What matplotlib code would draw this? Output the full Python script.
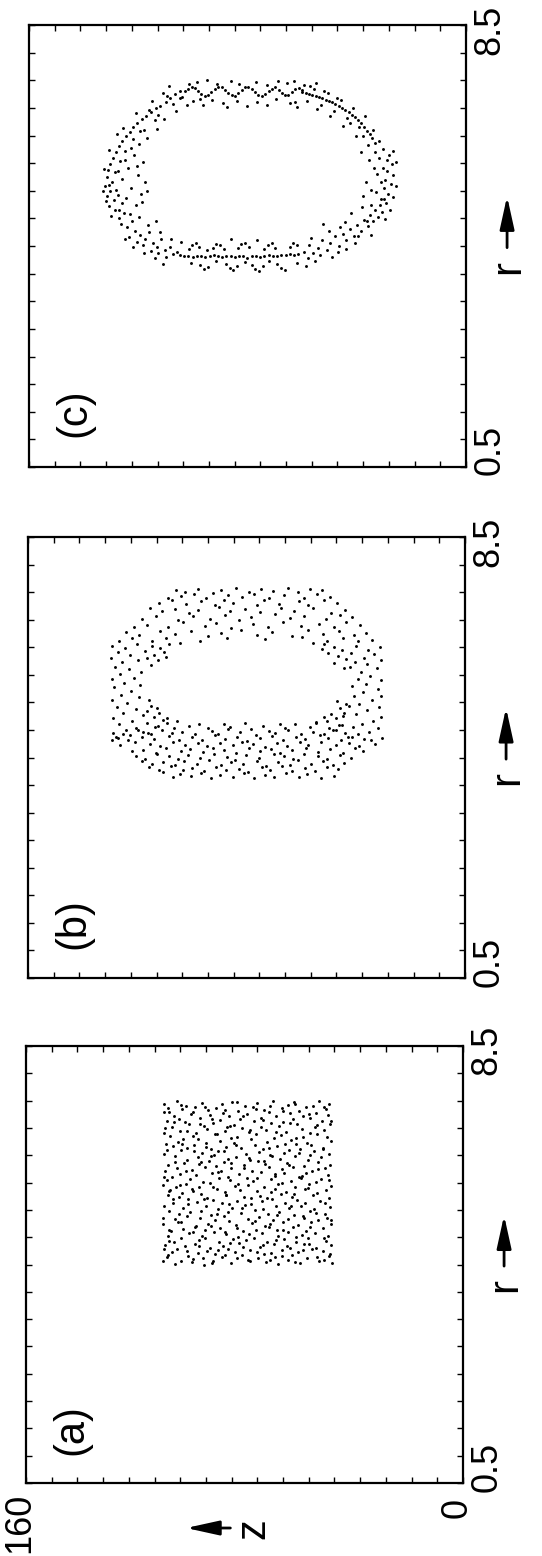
import numpy as np
import matplotlib
matplotlib.use("Agg")
import matplotlib.pyplot as plt

plt.rcParams['font.family'] = ['Liberation Sans', 'DejaVu Sans']

# axis ranges (r runs bottom->top, z runs right->left in the rotated figure)
r_lo, r_hi = 0.5, 8.5
z_lo, z_hi = 0.0, 160.0
r_ticks = np.arange(0.5, 8.51, 0.5)
z_ticks = np.linspace(0, 160, 18)
panel_names = ['(a)', '(b)', '(c)']

# panel (a): filled block of particles, (z, r)
pts_a = [
    (48.9,7.44),(52.7,7.49),(55.1,7.41),(61.8,7.47),(64.0,7.42),(69.5,7.50),(75.3,7.45),(79.9,7.41),(84.6,7.48),(88.2,7.43),(95.7,7.46),(101.4,7.40),(104.8,7.49),(109.3,7.43),
    (50.2,7.35),(57.4,7.38),(59.9,7.31),(66.1,7.36),(72.8,7.33),(77.0,7.39),(82.3,7.31),(90.6,7.37),(93.4,7.32),(98.1,7.38),(103.0,7.34),(107.6,7.30),
    (49.3,7.24),(53.8,7.28),(58.6,7.21),(63.3,7.27),(68.4,7.22),(71.0,7.29),(79.2,7.25),(85.7,7.21),(87.9,7.28),(92.5,7.23),(99.6,7.26),(105.9,7.22),(109.6,7.29),
    (51.6,7.13),(55.9,7.19),(62.4,7.16),(65.8,7.11),(74.1,7.18),(76.7,7.12),(81.5,7.17),(89.0,7.14),(96.3,7.19),(101.8,7.11),(104.1,7.16),(108.2,7.13),
    (48.6,7.07),(54.3,7.02),(60.7,7.08),(67.5,7.04),(70.2,7.09),(73.9,7.01),(83.8,7.06),(86.4,7.02),(91.7,7.09),(94.9,7.03),(100.5,7.07),(106.7,7.01),
    (50.8,6.96),(56.2,6.91),(59.0,6.98),(64.7,6.93),(72.1,6.97),(78.4,6.92),(80.9,6.99),(87.3,6.94),(93.8,6.98),(97.6,6.91),(103.7,6.95),(109.0,6.99),
    (49.9,6.83),(53.4,6.88),(61.1,6.81),(66.6,6.87),(69.3,6.82),(75.8,6.89),(82.7,6.84),(85.1,6.81),(90.8,6.88),(99.0,6.85),(102.6,6.80),(107.1,6.86),
    (48.3,6.76),(57.1,6.72),(62.9,6.78),(65.2,6.71),(71.6,6.75),(77.8,6.79),(84.0,6.73),(88.8,6.77),(94.2,6.72),(96.9,6.79),(104.5,6.74),(108.9,6.71),
    (51.2,6.64),(55.6,6.69),(59.6,6.62),(68.0,6.67),(73.4,6.61),(76.3,6.68),(81.1,6.63),(86.9,6.66),(92.1,6.61),(98.5,6.69),(101.2,6.64),(106.2,6.67),
    (49.0,6.52),(54.7,6.57),(60.2,6.54),(63.8,6.59),(70.7,6.51),(74.6,6.56),(79.5,6.53),(89.6,6.58),(91.3,6.51),(95.4,6.55),(103.3,6.59),(109.4,6.53),
    (52.0,6.46),(56.8,6.41),(61.6,6.48),(67.0,6.43),(69.8,6.49),(78.1,6.42),(83.2,6.47),(85.9,6.44),(93.1,6.40),(97.2,6.47),(100.9,6.42),(105.4,6.48),
    (48.7,6.33),(53.0,6.38),(58.3,6.31),(64.4,6.36),(72.4,6.34),(75.0,6.39),(80.3,6.32),(87.6,6.37),(90.3,6.31),(96.0,6.38),(102.1,6.35),(107.9,6.32),
    (50.5,6.27),(55.3,6.22),(62.1,6.29),(66.3,6.24),(71.2,6.28),(77.3,6.21),(84.9,6.26),(88.5,6.22),(94.6,6.29),(99.3,6.23),(104.7,6.27),(109.2,6.21),
    (49.4,6.14),(57.6,6.18),(60.0,6.11),(65.5,6.17),(68.8,6.12),(74.0,6.19),(82.0,6.15),(86.1,6.11),(91.9,6.18),(97.9,6.13),(103.5,6.16),(106.4,6.11),
    (51.9,6.06),(54.0,6.01),(59.3,6.08),(63.0,6.03),(70.4,6.07),(76.9,6.02),(79.0,6.09),(85.3,6.04),(89.3,6.08),(95.1,6.01),(100.0,6.06),(108.5,6.05),
    (48.4,5.94),(56.5,5.98),(61.4,5.92),(67.8,5.97),(72.9,5.91),(78.7,5.96),(83.5,5.93),(92.8,5.99),(96.6,5.92),(101.6,5.97),(105.1,5.91),(109.7,5.95),
    (50.0,5.86),(53.6,5.81),(58.0,5.88),(64.9,5.83),(69.0,5.89),(75.5,5.84),(81.8,5.87),(87.0,5.82),(90.0,5.88),(98.8,5.85),(102.9,5.81),(107.3,5.87),
    (49.1,5.72),(55.0,5.77),(62.6,5.73),(66.8,5.79),(71.9,5.71),(74.3,5.76),(80.1,5.73),(86.7,5.78),(93.6,5.72),(95.9,5.79),(104.0,5.74),(108.0,5.78),
    (52.5,5.66),(57.9,5.62),(60.9,5.68),(65.0,5.63),(70.0,5.69),(77.6,5.61),(82.9,5.66),(88.1,5.62),(91.5,5.68),(97.4,5.64),(100.8,5.69),(106.0,5.62),
    (48.8,5.55),(54.5,5.51),(59.4,5.58),(63.6,5.53),(68.6,5.57),(73.1,5.52),(79.7,5.59),(84.4,5.54),(89.8,5.51),(94.0,5.57),(102.4,5.53),(109.5,5.58),
    (50.7,5.43),(56.0,5.48),(61.9,5.41),(67.3,5.46),(71.4,5.42),(76.1,5.49),(81.3,5.44),(86.0,5.47),(92.3,5.41),(99.9,5.46),(103.8,5.42),(107.7,5.48),
    (49.7,5.36),(53.2,5.32),(58.7,5.39),(64.1,5.34),(69.6,5.31),(74.8,5.37),(78.9,5.33),(87.4,5.38),(90.9,5.32),(96.2,5.36),(101.0,5.39),(105.6,5.33),
    (48.2,5.24),(55.8,5.28),(60.5,5.22),(66.0,5.27),(72.6,5.21),(77.1,5.26),(83.1,5.23),(85.6,5.29),(93.3,5.25),(97.8,5.21),(104.2,5.28),(109.8,5.24),
    (51.4,5.16),(57.3,5.11),(62.2,5.18),(68.2,5.13),(70.9,5.19),(75.9,5.14),(80.5,5.12),(88.9,5.17),(94.4,5.13),(98.2,5.19),(102.7,5.15),(106.9,5.11),
    (49.5,5.03),(54.1,5.08),(59.1,5.04),(63.9,5.09),(67.7,5.02),(73.7,5.07),(82.4,5.01),(86.6,5.06),(91.1,5.09),(95.6,5.03),(100.3,5.07),(108.1,5.02),
    (50.3,4.93),(56.6,4.98),(61.0,4.91),(65.4,4.96),(71.8,4.92),(76.5,4.99),(79.3,4.94),(84.2,4.97),(89.4,4.91),(96.8,4.95),(103.1,4.99),(107.5,4.93),
    (48.5,4.86),(53.7,4.81),(58.2,4.88),(64.6,4.83),(69.1,4.87),(74.5,4.82),(81.9,4.89),(87.8,4.84),(92.6,4.81),(98.3,4.88),(101.9,4.83),(109.1,4.85),
    (51.1,4.74),(55.4,4.79),(60.3,4.72),(66.4,4.77),(70.3,4.71),(77.9,4.76),(83.6,4.73),(86.2,4.78),(93.9,4.75),(97.0,4.71),(104.6,4.78),(106.5,4.72),
    (49.2,4.66),(57.0,4.61),(62.7,4.68),(68.9,4.63),(73.0,4.69),(75.2,4.62),(80.8,4.67),(88.4,4.64),(90.7,4.69),(95.3,4.61),(100.6,4.66),(108.4,4.63),
    (48.1,4.53),(52.9,4.57),(59.7,4.52),(64.2,4.58),(67.9,4.51),(72.2,4.55),(78.6,4.59),(85.0,4.52),(91.6,4.56),(94.7,4.50),(99.4,4.54),(105.3,4.51),(109.9,4.57),
]
pts_a_more = [
    (48.5,7.12),(48.9,6.05),(48.3,5.31),(48.7,4.70),
    (50.9,7.38),(51.3,6.61),(50.6,5.62),(51.0,4.98),(50.8,4.58),
    (53.5,7.05),(53.1,6.24),(53.9,5.45),(53.4,4.64),
    (56.3,7.26),(56.0,6.50),(56.7,5.90),(56.1,5.19),(56.5,4.88),
    (58.4,6.83),(58.8,6.12),(58.1,5.36),(58.6,4.77),
    (61.5,7.44),(61.2,6.70),(61.8,5.79),(61.3,5.01),(61.6,4.55),
    (63.4,7.09),(63.7,6.32),(63.1,5.57),(63.5,4.80),
    (65.9,7.31),(65.6,6.55),(66.2,6.00),(65.8,5.13),(66.1,4.66),
    (68.3,6.92),(68.7,6.16),(68.0,5.41),(68.5,4.94),
    (70.6,7.41),(70.9,6.63),(70.3,5.83),(70.8,5.24),(70.5,4.59),
    (73.3,7.14),(73.0,6.40),(73.6,5.66),(73.2,4.85),
    (75.7,7.35),(75.4,6.08),(76.0,5.29),(75.6,4.73),
    (78.0,6.97),(78.3,6.45),(77.7,5.72),(78.2,5.06),(77.9,4.56),
    (80.6,7.22),(80.2,6.27),(80.9,5.53),(80.4,4.82),
    (82.8,7.48),(83.1,6.68),(82.5,5.98),(82.9,5.16),(82.6,4.62),
    (85.4,7.03),(85.0,6.36),(85.7,5.61),(85.2,4.90),
    (87.2,7.33),(87.5,6.57),(86.9,5.77),(87.3,5.10),(87.1,4.68),
    (89.9,6.88),(89.6,6.19),(90.2,5.43),(89.8,4.76),
    (92.0,7.17),(92.3,6.49),(91.7,5.92),(92.1,5.20),(91.9,4.53),
    (94.5,7.39),(94.2,6.66),(94.8,5.69),(94.4,4.99),
    (96.4,7.08),(96.7,6.34),(96.1,5.48),(96.5,4.83),
    (98.9,7.29),(98.6,6.58),(99.2,5.88),(98.8,5.09),(99.0,4.60),
    (101.1,6.94),(101.4,6.22),(100.8,5.60),(101.2,4.74),
    (103.3,7.42),(103.0,6.71),(103.6,5.95),(103.2,5.27),(103.4,4.57),
    (105.8,7.11),(105.5,6.38),(106.1,5.70),(105.7,4.91),
    (107.9,7.36),(108.2,6.60),(107.6,5.84),(107.8,5.14),(108.0,4.67),
    (109.5,6.90),(109.3,6.10),(109.7,5.35),(109.4,4.79),
]

# panel (b): hollow ring, upper part
pts_b_top = [
    (52.4,7.53),(56.9,7.56),(61.0,7.50),(64.8,7.57),(70.3,7.52),(74.6,7.55),(79.1,7.51),(83.7,7.57),(89.5,7.53),(92.2,7.49),(97.8,7.56),(102.5,7.51),(105.9,7.54),
    (49.3,7.42),(54.1,7.46),(58.8,7.40),(66.2,7.44),(71.9,7.39),(77.4,7.47),(81.6,7.42),(86.8,7.45),(94.7,7.40),(99.1,7.46),(104.0,7.43),(108.6,7.39),
    (46.8,7.30),(51.7,7.35),(57.5,7.27),(60.9,7.33),(68.1,7.29),(73.5,7.36),(76.0,7.26),(84.9,7.31),(88.3,7.36),(91.6,7.27),(96.5,7.33),(102.0,7.28),(107.2,7.35),(112.1,7.30),
    (44.0,7.18),(48.9,7.13),(55.6,7.22),(62.7,7.16),(67.3,7.21),(74.9,7.14),(80.4,7.19),(86.2,7.15),(90.0,7.23),(97.9,7.17),(101.1,7.12),(106.3,7.20),(110.8,7.15),(115.4,7.21),
    (41.2,7.05),(45.6,7.09),(50.8,7.01),(58.9,7.07),(64.1,7.03),(69.6,7.10),(78.3,7.04),(82.8,6.99),(87.7,7.08),(93.4,7.02),(99.6,7.07),(104.9,7.00),(113.0,7.06),(118.2,7.02),
    (38.6,6.90),(43.5,6.95),(47.9,6.86),(53.3,6.93),(60.2,6.88),(66.7,6.96),(72.3,6.87),(77.8,6.92),(85.5,6.85),(91.0,6.94),(95.2,6.89),(103.1,6.95),(108.7,6.86),(116.6,6.91),(121.3,6.87),
    (36.1,6.76),(40.7,6.72),(46.3,6.80),(52.0,6.74),(57.4,6.81),(63.5,6.71),(70.8,6.78),(76.1,6.73),(81.9,6.82),(89.2,6.75),(94.0,6.71),(100.3,6.79),(106.1,6.74),(111.5,6.80),(119.4,6.73),(124.2,6.78),
    (34.0,6.64),(39.3,6.61),(44.8,6.67),(50.5,6.62),(59.6,6.68),(73.2,6.65),(87.3,6.66),(97.1,6.61),(109.3,6.67),(114.7,6.62),(121.9,6.66),(126.8,6.61),
]
# panel (b): rounded corners of the hole
pts_b_corner = [
    (108.5,6.55),(111.8,6.48),(114.6,6.52),(110.2,6.41),(113.9,6.36),(116.4,6.30),(112.3,6.27),(115.0,6.18),(109.6,6.33),(104.2,6.58),
    (51.5,6.55),(48.0,6.50),(44.9,6.45),(50.0,6.40),(46.6,6.34),(43.5,6.28),(47.8,6.22),(52.3,6.47),(55.8,6.58),(44.4,6.12),
    (110.5,5.18),(113.8,5.24),(116.5,5.35),(111.9,5.30),(114.9,5.44),(109.0,5.22),(112.6,5.40),(115.8,5.55),(105.3,5.16),
    (50.4,5.17),(47.3,5.22),(44.2,5.31),(49.0,5.29),(45.8,5.40),(51.8,5.24),(43.6,5.47),(46.9,5.52),(54.7,5.15),
]
# panel (b): left and right sides
pts_b_side = [
    (129.2,6.52),(124.5,6.48),(120.1,6.55),(127.0,6.41),(117.3,6.44),(122.8,6.36),(129.5,6.30),(125.6,6.24),(119.8,6.27),(128.1,6.15),
    (123.0,6.10),(118.6,6.05),(126.4,6.01),(129.4,5.93),(121.2,5.95),(124.9,5.86),(118.9,5.81),(128.6,5.77),(122.3,5.70),(126.0,5.63),
    (119.5,5.60),(129.3,5.55),(123.8,5.49),(127.4,5.41),(120.6,5.38),(125.1,5.31),(118.0,5.27),(129.0,5.22),(122.0,5.16),(126.7,5.10),
    (116.3,5.12),(120.4,5.04),(124.3,5.00),(128.9,4.95),(113.5,5.06),(117.9,4.97),(122.7,4.91),(127.2,4.86),(129.4,4.81),(115.1,4.93),
    (31.0,6.50),(35.4,6.45),(39.8,6.53),(33.2,6.38),(41.6,6.40),(37.0,6.31),(30.7,6.26),(35.9,6.20),(40.3,6.23),(32.4,6.12),
    (38.1,6.06),(42.0,6.14),(34.6,5.98),(30.9,5.91),(39.2,5.93),(36.3,5.84),(41.4,5.79),(32.0,5.75),(37.5,5.68),(30.6,5.61),
    (40.6,5.62),(34.1,5.55),(38.8,5.47),(31.5,5.42),(42.3,5.44),(35.7,5.36),(39.9,5.29),(30.8,5.24),(33.6,5.17),(44.6,5.26),
    (37.8,5.11),(41.0,5.06),(31.9,5.03),(35.0,4.96),(45.1,5.09),(39.0,4.92),(30.5,4.85),(42.7,4.88),(34.4,4.82),(47.2,4.99),
]
# panel (b): dense lower part
pts_b_low = [
    (46.1,5.09),(49.8,5.04),(54.6,5.12),(56.9,5.06),(62.3,5.10),(66.0,5.03),(67.9,5.11),(73.8,5.07),(78.2,5.02),(80.6,5.12),(85.9,5.05),(88.4,5.10),(94.1,5.04),(97.5,5.11),(101.0,5.07),(106.6,5.03),(109.2,5.12),(112.4,5.08),
    (43.9,4.95),(48.2,4.99),(51.5,4.92),(55.7,4.97),(60.1,4.93),(64.8,5.00),(69.4,4.94),(71.7,4.98),(76.5,4.91),(82.2,4.96),(86.7,5.01),(90.5,4.93),(92.8,4.98),(98.9,4.92),(103.6,4.97),(107.3,4.94),(110.8,5.00),(116.0,4.95),(119.7,4.99),(125.3,4.93),
    (36.9,4.84),(41.2,4.88),(45.5,4.81),(50.0,4.86),(53.2,4.90),(58.4,4.83),(61.9,4.87),(66.7,4.82),(70.6,4.89),(75.0,4.85),(79.8,4.80),(83.4,4.88),(87.9,4.84),(91.6,4.90),(96.3,4.82),(100.1,4.87),(104.7,4.81),(108.5,4.89),(113.9,4.84),(118.2,4.88),(123.5,4.82),(127.6,4.87),
    (33.0,4.74),(38.8,4.70),(42.4,4.77),(47.1,4.72),(52.6,4.79),(57.3,4.73),(60.5,4.78),(65.1,4.71),(69.0,4.76),(73.3,4.69),(77.7,4.75),(81.5,4.79),(85.0,4.72),(89.8,4.77),(94.6,4.70),(97.9,4.76),(102.4,4.73),(106.9,4.78),(111.6,4.71),(115.2,4.75),(120.9,4.79),(126.2,4.72),
    (37.4,4.62),(40.1,4.67),(44.7,4.59),(49.4,4.65),(54.0,4.60),(58.1,4.68),(63.2,4.63),(67.6,4.58),(71.0,4.66),(74.9,4.61),(79.1,4.67),(83.8,4.59),(88.1,4.64),(92.3,4.68),(95.8,4.60),(100.8,4.65),(104.1,4.62),(109.6,4.67),(113.3,4.59),(117.8,4.64),(122.1,4.61),
    (41.8,4.50),(45.9,4.55),(50.7,4.48),(53.9,4.53),(59.0,4.57),(62.8,4.47),(66.3,4.52),(70.1,4.56),(75.6,4.49),(80.0,4.54),(84.3,4.46),(87.2,4.51),(91.9,4.57),(96.9,4.49),(101.3,4.54),(105.0,4.47),(108.2,4.52),(112.7,4.56),(117.0,4.48),(120.6,4.53),
    (44.3,4.40),(48.5,4.36),(52.1,4.43),(56.4,4.38),(61.1,4.45),(64.0,4.37),(68.5,4.41),(72.9,4.35),(76.2,4.44),(81.1,4.39),(85.6,4.42),(89.3,4.36),(93.7,4.45),(98.2,4.38),(102.9,4.43),(106.3,4.36),(110.4,4.41),(114.5,4.38),(118.4,4.44),
    (46.4,4.29),(50.4,4.33),(55.0,4.26),(58.6,4.31),(63.4,4.25),(67.0,4.34),(71.4,4.28),(74.4,4.32),(79.4,4.24),(82.9,4.30),(87.6,4.27),(91.2,4.33),(95.4,4.25),(99.8,4.31),(103.2,4.28),(107.8,4.34),(112.0,4.27),(115.6,4.32),
    (48.0,4.17),(52.8,4.13),(57.8,4.20),(60.8,4.15),(65.6,4.22),(69.9,4.14),(73.1,4.18),(77.2,4.12),(80.9,4.21),(84.8,4.15),(89.7,4.19),(93.0,4.13),(96.7,4.22),(100.4,4.16),(104.4,4.20),(107.0,4.14),(110.6,4.23),
]

# panel (c): thin ring, top part with the wavy chain
pts_c_top = [
    (103.0,7.30),(101.8,7.35),(100.5,7.38),(99.3,7.36),(98.1,7.31),(96.9,7.25),(95.6,7.22),(94.4,7.24),(93.2,7.29),(92.0,7.34),(90.7,7.38),(89.5,7.37),
    (88.3,7.32),(87.0,7.27),(85.8,7.23),(84.6,7.22),(83.4,7.27),(82.1,7.32),(80.9,7.37),(79.7,7.38),(78.4,7.34),(77.2,7.29),(76.0,7.24),(74.8,7.22),
    (73.5,7.25),(72.3,7.30),(71.1,7.35),(69.9,7.37),(68.6,7.33),(67.4,7.27),(66.2,7.23),(65.0,7.24),(63.7,7.29),(62.5,7.34),(61.3,7.36),(60.1,7.32),
    (98.4,7.46),(94.9,7.50),(91.3,7.43),(86.1,7.48),(83.0,7.44),(76.8,7.47),(73.0,7.42),(68.9,7.49),(65.7,7.45),(59.2,7.41),(101.5,7.44),
    (99.8,7.12),(96.2,7.05),(92.9,7.15),(89.0,7.08),(84.0,7.13),(80.2,7.03),(76.4,7.11),(72.7,7.06),(69.4,7.16),(64.3,7.09),(61.7,7.02),(104.6,7.18),(97.3,7.16),(87.6,7.01),
]
# panel (c): left half of the ring
pts_c_left = [
    (106.5,7.25),(108.2,7.18),(104.8,7.31),(110.0,7.10),(111.9,7.04),(109.3,7.21),(113.5,7.00),(115.2,6.93),(112.6,6.88),(117.0,6.85),(118.7,6.79),(116.1,6.97),
    (120.3,6.72),(121.8,6.66),(119.4,6.58),(123.2,6.57),(124.6,6.49),(122.0,6.43),(125.9,6.40),(127.1,6.31),(124.9,6.22),(128.3,6.21),(129.4,6.10),(126.8,6.04),
    (130.2,5.98),(131.0,5.88),(128.4,5.84),(114.0,6.78),(107.4,7.07),(118.0,6.60),(111.1,7.27),(103.8,7.20),(120.8,6.90),(125.5,6.64),(130.7,6.24),(127.7,6.52),
    (131.6,5.74),(129.5,5.66),(132.0,5.58),(130.4,5.49),(128.2,5.52),(131.3,5.40),(129.0,5.33),(127.3,5.42),(130.6,5.22),(128.6,5.15),(126.1,5.27),(129.9,5.05),
    (127.0,5.00),(125.2,5.09),(130.8,5.60),(131.9,5.31),
    (126.3,4.90),(124.0,4.84),(122.2,4.95),(121.1,4.77),(119.4,4.70),(123.5,4.66),(117.6,4.63),(116.0,4.75),(114.7,4.56),(118.3,4.51),
    (113.1,4.48),(111.6,4.62),(110.2,4.42),(112.9,4.37),(108.5,4.49),(107.3,4.35),(115.5,4.41),(109.8,4.30),(120.5,4.58),(105.9,4.40),
    (121.5,6.15),(118.3,6.02),(123.9,5.92),(120.0,5.78),(125.8,5.71),(117.4,5.65),(122.6,5.55),(119.1,5.44),(124.4,5.36),(121.0,5.24),
    (126.9,5.15),(118.6,5.30),(123.0,5.08),(132.6,5.90),(133.0,5.50),(127.5,5.85),(120.3,5.95),(116.8,5.50),(125.0,6.05),(122.8,6.28),
    (113.2,6.62),(110.5,6.80),(116.9,6.45),(106.0,6.95),(119.6,6.35),(102.2,7.05),(108.9,7.40),(114.8,7.12),
    (124.8,4.62),(121.8,4.48),(118.0,4.38),(114.0,4.28),(110.8,4.18),(116.6,4.88),(112.1,4.75),(107.9,4.62),(119.9,5.02),(113.6,4.95),
]
# panel (c): bottom chain and wave
pts_c_bottom = [
    (104.8,4.33),(103.2,4.31),(101.7,4.32),(100.1,4.30),(98.6,4.31),(97.0,4.32),(95.5,4.30),(93.9,4.31),(92.4,4.33),(90.8,4.31),(89.3,4.30),(87.7,4.32),
    (86.2,4.31),(84.6,4.30),(83.1,4.32),(81.5,4.31),(80.0,4.29),(78.4,4.31),(76.9,4.32),(75.3,4.30),(73.8,4.31),(72.2,4.33),(70.7,4.31),(69.1,4.32),
    (67.6,4.34),(66.0,4.33),(64.5,4.35),(62.9,4.34),(61.4,4.36),
    (101.5,4.45),(100.3,4.52),(99.0,4.55),(97.6,4.48),(92.8,4.47),(91.4,4.54),(90.0,4.52),(88.7,4.44),(83.6,4.46),(82.2,4.53),(80.8,4.56),(79.4,4.49),
    (73.9,4.45),(72.6,4.52),(71.2,4.55),(69.8,4.47),(64.6,4.48),(63.2,4.55),(61.8,4.52),(104.2,4.58),(86.0,4.62),(76.5,4.60),(95.0,4.42),
    (97.3,4.15),(96.0,4.09),(94.6,4.12),(87.9,4.18),(86.5,4.10),(85.2,4.06),(83.8,4.13),(78.5,4.16),(77.1,4.08),(75.7,4.05),(74.3,4.14),(69.2,4.17),
    (67.8,4.10),(66.4,4.07),(100.8,4.20),(91.7,4.22),(81.0,4.21),(72.0,4.23),(62.0,4.19),(58.5,4.14),
]
# panel (c): right half of the ring
pts_c_right = [
    (59.4,4.40),(57.6,4.52),(56.1,4.38),(54.3,4.47),(52.8,4.60),(51.0,4.42),(49.7,4.55),(48.1,4.68),(46.5,4.50),(45.2,4.72),(43.8,4.61),(42.6,4.80),
    (41.0,4.69),(39.9,4.88),(38.3,4.78),(37.2,4.97),(36.0,4.86),(35.1,5.06),(34.2,4.95),(33.5,5.15),(32.4,5.03),(31.6,5.24),(30.8,5.12),(30.1,5.35),
    (29.3,5.28),(53.5,4.33),(47.0,4.40),(40.5,4.55),(34.8,4.70),(44.4,4.93),(50.3,4.78),(37.9,5.20),(56.8,4.65),
    (28.4,5.45),(26.8,5.38),(30.2,5.55),(27.5,5.62),(29.6,5.70),(26.6,5.78),(31.3,5.66),(28.9,5.85),(30.5,5.92),(27.2,5.98),(32.7,5.80),(29.0,6.05),
    (31.8,6.10),(28.1,6.15),(33.4,6.20),(30.4,6.25),(26.9,6.22),(34.6,5.52),(31.0,5.35),(27.8,5.15),(29.7,4.98),
    (60.0,7.28),(58.7,7.27),(57.5,7.25),(56.3,7.24),(55.1,7.22),(53.8,7.20),(52.6,7.18),(51.4,7.15),(50.2,7.12),(49.0,7.10),(47.8,7.07),(46.6,7.03),
    (45.4,7.00),(44.2,6.96),(43.0,6.92),(41.8,6.87),(40.6,6.83),(39.5,6.78),(38.4,6.72),(37.3,6.66),(36.3,6.59),(35.3,6.52),(34.4,6.45),(33.5,6.37),
    (58.2,7.12),(55.8,7.35),(53.0,7.05),(50.6,7.27),(48.3,6.95),(45.9,7.14),(43.6,6.82),(41.2,7.00),(39.0,6.66),(36.8,6.85),(34.0,6.60),(32.0,6.40),
    (57.0,7.40),(47.2,7.18),(37.7,6.50),(52.0,7.30),(42.5,6.72),
    (36.5,5.65),(33.8,5.92),(35.6,6.05),(37.8,5.40),(32.9,5.48),(25.8,5.58),(25.5,6.02),(34.9,5.25),(38.6,6.20),(36.2,4.95),
    (55.2,4.22),(49.2,4.30),(44.0,4.45),(39.5,4.68),(52.5,4.90),(46.0,4.85),(42.0,5.10),(57.9,4.28),
    (62.5,7.10),(54.6,6.98),(49.8,6.85),(44.9,6.68),(40.2,6.50),(36.0,6.32),(63.0,7.48),(55.0,7.45),
]

panels = [
    pts_a + pts_a_more,
    pts_b_top + pts_b_corner + pts_b_side + pts_b_low,
    pts_c_top + pts_c_left + pts_c_bottom + pts_c_right,
]

fig = plt.figure(figsize=(5.42, 15.56), dpi=100)
W, H = 542, 1556
# frame boxes in pixels: left, top, right, bottom
boxes = [(26, 1046, 463, 1483), (28, 537, 465, 978), (29, 25, 466, 467)]
arrow_style = dict(arrowstyle='-|>,head_length=1.0,head_width=0.22', lw=2,
                   color='k', mutation_scale=20)

for k in range(3):
    x0, y0, x1, y1 = boxes[k]
    ax = fig.add_axes([x0 / W, (H - y1) / H, (x1 - x0) / W, (y1 - y0) / H])
    ax.set_xlim(z_hi, z_lo)
    ax.set_ylim(r_lo, r_hi)
    ax.set_xticks(z_ticks)
    ax.set_yticks(r_ticks)
    ax.tick_params(direction='in', length=4, width=1.0, top=True, right=True,
                   labelbottom=False, labelleft=False)
    for s in ax.spines.values():
        s.set_linewidth(1.6)

    z = [p[0] for p in panels[k]]
    r = [p[1] for p in panels[k]]
    ax.plot(z, r, 'o', color='k', ms=2.1, mew=0)

    ax.text(143.5, 1.48, panel_names[k], rotation=90, ha='center', va='center', fontsize=30)

    tr = ax.get_yaxis_transform()
    ax.text(1.055, 0.5 + 0.3, '0.5', transform=tr, rotation=90, ha='center', va='center', fontsize=26)
    ax.text(1.055, 8.5 - 0.08, '8.5', transform=tr, rotation=90, ha='center', va='center', fontsize=26)
    ax.text(1.097, 4.12, 'r', transform=tr, rotation=90, ha='center', va='center', fontsize=30)
    ax.annotate('', xy=(1.094, 5.45), xytext=(1.094, 4.42), xycoords=tr, textcoords=tr,
                arrowprops=arrow_style, annotation_clip=False)

    if k == 0:
        ax.text(-0.014, -0.022, '160', transform=ax.transAxes, rotation=90, ha='center', va='top', fontsize=26)
        ax.text(0.986, -0.035, '0', transform=ax.transAxes, rotation=90, ha='center', va='top', fontsize=26)
        ax.text(0.52, -0.105, 'z', transform=ax.transAxes, rotation=90, ha='center', va='center', fontsize=30)
        ax.annotate('', xy=(0.36, -0.103), xytext=(0.474, -0.103), xycoords='axes fraction',
                    arrowprops=arrow_style, annotation_clip=False)

fig.savefig('out.png', dpi=100)
